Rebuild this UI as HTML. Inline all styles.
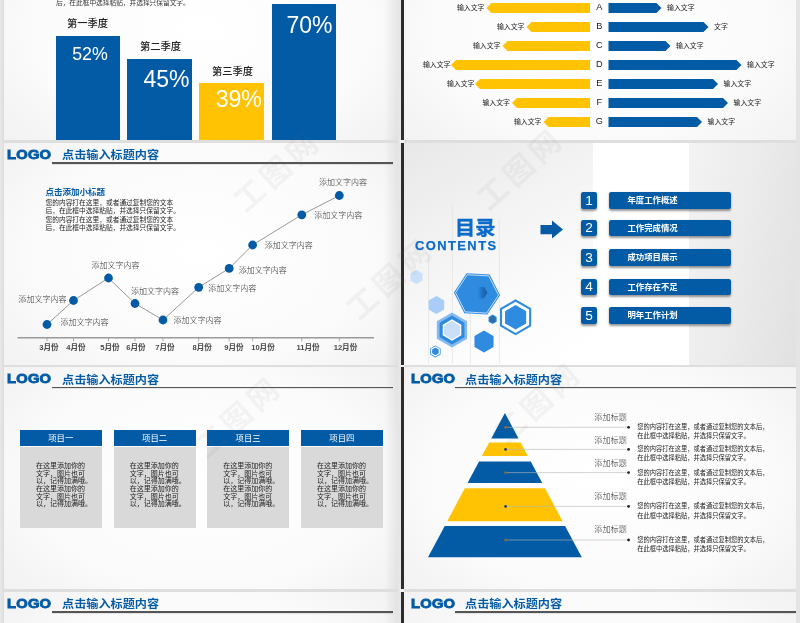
<!DOCTYPE html>
<html lang="zh-CN"><head><meta charset="utf-8"><title>工作总结 PPT 模板预览</title>
<style>
html,body{margin:0;padding:0}
body{width:800px;height:623px;overflow:hidden;position:relative;background:#e2e2e2;font-family:"Liberation Sans","Noto Sans CJK SC",sans-serif}
.s{position:absolute;overflow:hidden}
.t{position:absolute;white-space:nowrap}
.abs{position:absolute}
.logo{position:absolute;font-weight:700;font-size:12.7px;line-height:17px;color:#035ba6;-webkit-text-stroke:0.85px #035ba6;transform:scaleX(1.16);transform-origin:0 50%;letter-spacing:0.2px}
.ttl{position:absolute;font-weight:700;font-size:11.3px;line-height:17px;color:#035ba6;white-space:nowrap;transform:scaleX(1.075);transform-origin:0 50%}
.hl{position:absolute;height:1.6px;background:#555;box-shadow:0 0.8px 0.8px rgba(0,0,0,.12)}
svg{position:absolute;left:0;top:0;overflow:visible}
</style></head><body>

<div class="s" style="left:4px;top:-83px;width:394px;height:223px;background:radial-gradient(ellipse 75% 85% at 50% 50%,#ffffff 0%,#fbfbfb 55%,#efefef 100%)"></div>
<div class="s" style="left:4px;top:142.5px;width:394px;height:222.5px;background:radial-gradient(ellipse 75% 85% at 50% 50%,#ffffff 0%,#fbfbfb 55%,#efefef 100%)"></div>
<div class="s" style="left:4px;top:367px;width:394px;height:222.5px;background:radial-gradient(ellipse 75% 85% at 50% 50%,#ffffff 0%,#fbfbfb 55%,#efefef 100%)"></div>
<div class="s" style="left:4px;top:591.5px;width:394px;height:222.5px;background:radial-gradient(ellipse 75% 85% at 50% 50%,#ffffff 0%,#fbfbfb 55%,#efefef 100%)"></div>
<div class="s" style="left:403.5px;top:-83px;width:392.5px;height:223px;background:radial-gradient(ellipse 75% 85% at 50% 50%,#ffffff 0%,#fbfbfb 55%,#efefef 100%)"></div>
<div class="s" style="left:403.5px;top:367px;width:392.5px;height:222.5px;background:radial-gradient(ellipse 75% 85% at 50% 50%,#ffffff 0%,#fbfbfb 55%,#efefef 100%)"></div>
<div class="s" style="left:403.5px;top:591.5px;width:392.5px;height:222.5px;background:radial-gradient(ellipse 75% 85% at 50% 50%,#ffffff 0%,#fbfbfb 55%,#efefef 100%)"></div>
<div class="s" style="left:384px;top:-83px;width:14px;height:223px;background:linear-gradient(90deg,rgba(0,0,0,0),rgba(0,0,0,0.07))"></div>
<div class="s" style="left:384px;top:142.5px;width:14px;height:222.5px;background:linear-gradient(90deg,rgba(0,0,0,0),rgba(0,0,0,0.07))"></div>
<div class="s" style="left:384px;top:367px;width:14px;height:222.5px;background:linear-gradient(90deg,rgba(0,0,0,0),rgba(0,0,0,0.07))"></div>
<div class="s" style="left:384px;top:591.5px;width:14px;height:222.5px;background:linear-gradient(90deg,rgba(0,0,0,0),rgba(0,0,0,0.07))"></div>
<div class="s" style="left:403.5px;top:142.5px;width:392.5px;height:222.5px;background:linear-gradient(150deg,#e8e8e8 0%,#f0f0f0 20%,#f6f6f6 36%,#fcfcfc 55%,#ffffff 70%)"></div>
<div class="s" style="left:592.5px;top:142.5px;width:96px;height:222.5px;background:#fff"></div>
<div class="s" style="left:688.5px;top:142.5px;width:107.5px;height:222.5px;background:linear-gradient(100deg,#f3f3f3 0%,#ececec 45%,#e1e1e1 100%)"></div>
<div class="abs" style="left:0;top:140.1px;width:800px;height:2.6px;background:#dedede"></div>
<div class="abs" style="left:0;top:364.7px;width:800px;height:2.6px;background:#dedede"></div>
<div class="abs" style="left:0;top:589.3px;width:800px;height:2.6px;background:#dedede"></div>
<div class="abs" style="left:398px;top:0;width:3px;height:623px;background:#e6e6e6"></div>
<div class="abs" style="left:401px;top:0;width:2.8px;height:623px;background:#2c2c2c"></div>
<div class="abs" style="left:400px;top:140.1px;width:4px;height:2.6px;background:#f2f2f2"></div>
<div class="abs" style="left:400px;top:364.7px;width:4px;height:2.6px;background:#f2f2f2"></div>
<div class="abs" style="left:400px;top:589.3px;width:4px;height:2.6px;background:#f2f2f2"></div>
<div class="abs" style="left:0;top:0;width:4px;height:623px;background:linear-gradient(90deg,#e9e9e9,#dcdcdc)"></div>
<div class="abs" style="left:795.5px;top:0;width:4.5px;height:623px;background:#e4e4e4"></div>
<div class="logo" style="left:6.8px;top:146.8px">LOGO</div>
<div class="ttl" style="left:61.9px;top:147.1px">点击输入标题内容</div>
<div class="hl" style="left:52px;top:162.4px;width:341px"></div>
<div class="logo" style="left:6.8px;top:371.3px">LOGO</div>
<div class="ttl" style="left:61.9px;top:371.6px">点击输入标题内容</div>
<div class="hl" style="left:52px;top:386.9px;width:341px"></div>
<div class="logo" style="left:6.8px;top:595.8px">LOGO</div>
<div class="ttl" style="left:61.9px;top:596.1px">点击输入标题内容</div>
<div class="hl" style="left:52px;top:611.4px;width:341px"></div>
<div class="logo" style="left:411.0px;top:371.3px">LOGO</div>
<div class="ttl" style="left:464.79999999999995px;top:371.6px">点击输入标题内容</div>
<div class="hl" style="left:455px;top:386.9px;width:340.5px"></div>
<div class="logo" style="left:411.0px;top:595.8px">LOGO</div>
<div class="ttl" style="left:464.79999999999995px;top:596.1px">点击输入标题内容</div>
<div class="hl" style="left:455px;top:611.4px;width:340.5px"></div>
<div class="t" style="top:-0.66px;font-size:6.7px;line-height:8.71px;color:#333;font-weight:400;left:56px;">后，在此框中选择粘贴，并选择只保留文字。</div>
<div class="abs" style="left:56px;top:36px;width:64px;height:103.69999999999999px;background:#035ba6"></div>
<div class="abs" style="left:127.2px;top:59px;width:64.8px;height:80.69999999999999px;background:#035ba6"></div>
<div class="abs" style="left:199px;top:82.5px;width:65px;height:57.19999999999999px;background:#ffc303"></div>
<div class="abs" style="left:271.5px;top:4px;width:64.0px;height:135.7px;background:#035ba6"></div>
<div class="t" style="top:17.3px;font-size:10.3px;line-height:13.39px;color:#222;font-weight:500;left:-12.5px;width:200px;text-align:center;">第一季度</div>
<div class="t" style="top:40.2px;font-size:10.3px;line-height:13.39px;color:#222;font-weight:500;left:60.5px;width:200px;text-align:center;">第二季度</div>
<div class="t" style="top:65.21px;font-size:10.3px;line-height:13.39px;color:#222;font-weight:500;left:132.5px;width:200px;text-align:center;">第三季度</div>
<div class="t" style="top:42.83px;font-size:17.8px;line-height:23.14px;color:#fff;font-weight:400;left:-10px;width:200px;text-align:center;font-family:"Liberation Sans",sans-serif;-webkit-text-stroke:0.4px #035ba6;">52%</div>
<div class="t" style="top:65.35px;font-size:23px;line-height:29.9px;color:#fff;font-weight:400;left:66.5px;width:200px;text-align:center;font-family:"Liberation Sans",sans-serif;-webkit-text-stroke:0.4px #035ba6;">45%</div>
<div class="t" style="top:84.55px;font-size:23px;line-height:29.9px;color:#fff;font-weight:400;left:138.7px;width:200px;text-align:center;font-family:"Liberation Sans",sans-serif;-webkit-text-stroke:0.4px #ffc303;">39%</div>
<div class="t" style="top:10.55px;font-size:23px;line-height:29.9px;color:#fff;font-weight:400;left:209.5px;width:200px;text-align:center;font-family:"Liberation Sans",sans-serif;-webkit-text-stroke:0.4px #035ba6;">70%</div>
<svg width="800" height="623" viewBox="0 0 800 623">
<polygon fill="#ffc303" points="590,3 491.5,3 486.5,8 491.5,13 590,13"/>
<polygon fill="#035ba6" points="608.5,3 656.5,3 661.5,8 656.5,13 608.5,13"/>
<polygon fill="#ffc303" points="590,22 531.5,22 526.5,27 531.5,32 590,32"/>
<polygon fill="#035ba6" points="608.5,22 703.5,22 708.5,27 703.5,32 608.5,32"/>
<polygon fill="#ffc303" points="590,41 507.5,41 502.5,46 507.5,51 590,51"/>
<polygon fill="#035ba6" points="608.5,41 665.5,41 670.5,46 665.5,51 608.5,51"/>
<polygon fill="#ffc303" points="590,60 456,60 451,65 456,70 590,70"/>
<polygon fill="#035ba6" points="608.5,60 736.5,60 741.5,65 736.5,70 608.5,70"/>
<polygon fill="#ffc303" points="590,79 480,79 475,84 480,89 590,89"/>
<polygon fill="#035ba6" points="608.5,79 713,79 718,84 713,89 608.5,89"/>
<polygon fill="#ffc303" points="590,98 517,98 512,103 517,108 590,108"/>
<polygon fill="#035ba6" points="608.5,98 723,98 728,103 723,108 608.5,108"/>
<polygon fill="#ffc303" points="590,117 548.5,117 543.5,122 548.5,127 590,127"/>
<polygon fill="#035ba6" points="608.5,117 697,117 702,122 697,127 608.5,127"/>
</svg>
<div class="t" style="top:3.51px;font-size:6.9px;line-height:8.97px;color:#222;font-weight:400;right:315.5px;text-align:right;">输入文字</div>
<div class="t" style="top:3.51px;font-size:6.9px;line-height:8.97px;color:#222;font-weight:400;left:667.0px;">输入文字</div>
<div class="t" style="top:2.22px;font-size:9.2px;line-height:11.96px;color:#222;font-weight:400;left:499.29999999999995px;width:200px;text-align:center;">A</div>
<div class="t" style="top:22.52px;font-size:6.9px;line-height:8.97px;color:#222;font-weight:400;right:275.5px;text-align:right;">输入文字</div>
<div class="t" style="top:22.52px;font-size:6.9px;line-height:8.97px;color:#222;font-weight:400;left:714.0px;">文字</div>
<div class="t" style="top:21.22px;font-size:9.2px;line-height:11.96px;color:#222;font-weight:400;left:499.29999999999995px;width:200px;text-align:center;">B</div>
<div class="t" style="top:41.52px;font-size:6.9px;line-height:8.97px;color:#222;font-weight:400;right:299.5px;text-align:right;">输入文字</div>
<div class="t" style="top:41.52px;font-size:6.9px;line-height:8.97px;color:#222;font-weight:400;left:676.0px;">输入文字</div>
<div class="t" style="top:40.22px;font-size:9.2px;line-height:11.96px;color:#222;font-weight:400;left:499.29999999999995px;width:200px;text-align:center;">C</div>
<div class="t" style="top:60.52px;font-size:6.9px;line-height:8.97px;color:#222;font-weight:400;right:349.5px;text-align:right;">输入文字</div>
<div class="t" style="top:60.52px;font-size:6.9px;line-height:8.97px;color:#222;font-weight:400;left:747.0px;">输入文字</div>
<div class="t" style="top:59.22px;font-size:9.2px;line-height:11.96px;color:#222;font-weight:400;left:499.29999999999995px;width:200px;text-align:center;">D</div>
<div class="t" style="top:79.52px;font-size:6.9px;line-height:8.97px;color:#222;font-weight:400;right:325.5px;text-align:right;">输入文字</div>
<div class="t" style="top:79.52px;font-size:6.9px;line-height:8.97px;color:#222;font-weight:400;left:723.5px;">输入文字</div>
<div class="t" style="top:78.22px;font-size:9.2px;line-height:11.96px;color:#222;font-weight:400;left:499.29999999999995px;width:200px;text-align:center;">E</div>
<div class="t" style="top:98.52px;font-size:6.9px;line-height:8.97px;color:#222;font-weight:400;right:290px;text-align:right;">输入文字</div>
<div class="t" style="top:98.52px;font-size:6.9px;line-height:8.97px;color:#222;font-weight:400;left:733.5px;">输入文字</div>
<div class="t" style="top:97.22px;font-size:9.2px;line-height:11.96px;color:#222;font-weight:400;left:499.29999999999995px;width:200px;text-align:center;">F</div>
<div class="t" style="top:117.52px;font-size:6.9px;line-height:8.97px;color:#222;font-weight:400;right:258.5px;text-align:right;">输入文字</div>
<div class="t" style="top:117.52px;font-size:6.9px;line-height:8.97px;color:#222;font-weight:400;left:707.5px;">输入文字</div>
<div class="t" style="top:116.22px;font-size:9.2px;line-height:11.96px;color:#222;font-weight:400;left:499.29999999999995px;width:200px;text-align:center;">G</div>
<div class="t" style="top:187.47px;font-size:8.5px;line-height:11.05px;color:#035ba6;font-weight:700;left:45.5px;">点击添加小标题</div>
<div class="t" style="top:199.23px;font-size:6.72px;line-height:8.74px;color:#222;font-weight:400;left:45.5px;">您的内容打在这里，或者通过复制您的文本</div>
<div class="t" style="top:207.43px;font-size:6.72px;line-height:8.74px;color:#222;font-weight:400;left:45.5px;">后，在此框中选择粘贴，并选择只保留文字。</div>
<div class="t" style="top:215.63px;font-size:6.72px;line-height:8.74px;color:#222;font-weight:400;left:45.5px;">您的内容打在这里，或者通过复制您的文本</div>
<div class="t" style="top:223.83px;font-size:6.72px;line-height:8.74px;color:#222;font-weight:400;left:45.5px;">后，在此框中选择粘贴，并选择只保留文字。</div>
<svg width="800" height="623" viewBox="0 0 800 623">
<line x1="17.5" y1="337.7" x2="374" y2="337.7" stroke="#9a9a9a" stroke-width="1.4"/>
<line x1="47" y1="337.7" x2="47" y2="341.3" stroke="#9a9a9a" stroke-width="0.8"/>
<line x1="73.5" y1="337.7" x2="73.5" y2="341.3" stroke="#9a9a9a" stroke-width="0.8"/>
<line x1="108.5" y1="337.7" x2="108.5" y2="341.3" stroke="#9a9a9a" stroke-width="0.8"/>
<line x1="135" y1="337.7" x2="135" y2="341.3" stroke="#9a9a9a" stroke-width="0.8"/>
<line x1="163" y1="337.7" x2="163" y2="341.3" stroke="#9a9a9a" stroke-width="0.8"/>
<line x1="198.7" y1="337.7" x2="198.7" y2="341.3" stroke="#9a9a9a" stroke-width="0.8"/>
<line x1="229.2" y1="337.7" x2="229.2" y2="341.3" stroke="#9a9a9a" stroke-width="0.8"/>
<line x1="252.6" y1="337.7" x2="252.6" y2="341.3" stroke="#9a9a9a" stroke-width="0.8"/>
<line x1="301.8" y1="337.7" x2="301.8" y2="341.3" stroke="#9a9a9a" stroke-width="0.8"/>
<line x1="339.3" y1="337.7" x2="339.3" y2="341.3" stroke="#9a9a9a" stroke-width="0.8"/>
<polyline fill="none" stroke="#8c8c8c" stroke-width="0.9" points="47,324.5 73.5,300.5 108.5,278 135,303.5 163,320 198.7,287.3 229.2,268.4 252.6,245 301.8,214.8 339.3,195.5"/>
<circle cx="47" cy="324.5" r="4.4" fill="#035ba6"/>
<circle cx="73.5" cy="300.5" r="4.4" fill="#035ba6"/>
<circle cx="108.5" cy="278" r="4.4" fill="#035ba6"/>
<circle cx="135" cy="303.5" r="4.4" fill="#035ba6"/>
<circle cx="163" cy="320" r="4.4" fill="#035ba6"/>
<circle cx="198.7" cy="287.3" r="4.4" fill="#035ba6"/>
<circle cx="229.2" cy="268.4" r="4.4" fill="#035ba6"/>
<circle cx="252.6" cy="245" r="4.4" fill="#035ba6"/>
<circle cx="301.8" cy="214.8" r="4.4" fill="#035ba6"/>
<circle cx="339.3" cy="195.5" r="4.4" fill="#035ba6"/>
</svg>
<div class="t" style="top:342.86px;font-size:7.6px;line-height:9.88px;color:#4a4a4a;font-weight:700;left:-51px;width:200px;text-align:center;">3月份</div>
<div class="t" style="top:342.86px;font-size:7.6px;line-height:9.88px;color:#4a4a4a;font-weight:700;left:-24px;width:200px;text-align:center;">4月份</div>
<div class="t" style="top:342.86px;font-size:7.6px;line-height:9.88px;color:#4a4a4a;font-weight:700;left:10px;width:200px;text-align:center;">5月份</div>
<div class="t" style="top:342.86px;font-size:7.6px;line-height:9.88px;color:#4a4a4a;font-weight:700;left:36px;width:200px;text-align:center;">6月份</div>
<div class="t" style="top:342.86px;font-size:7.6px;line-height:9.88px;color:#4a4a4a;font-weight:700;left:65px;width:200px;text-align:center;">7月份</div>
<div class="t" style="top:342.86px;font-size:7.6px;line-height:9.88px;color:#4a4a4a;font-weight:700;left:102.19999999999999px;width:200px;text-align:center;">8月份</div>
<div class="t" style="top:342.86px;font-size:7.6px;line-height:9.88px;color:#4a4a4a;font-weight:700;left:134px;width:200px;text-align:center;">9月份</div>
<div class="t" style="top:342.86px;font-size:7.6px;line-height:9.88px;color:#4a4a4a;font-weight:700;left:163px;width:200px;text-align:center;">10月份</div>
<div class="t" style="top:342.86px;font-size:7.6px;line-height:9.88px;color:#4a4a4a;font-weight:700;left:208px;width:200px;text-align:center;">11月份</div>
<div class="t" style="top:342.86px;font-size:7.6px;line-height:9.88px;color:#4a4a4a;font-weight:700;left:245.5px;width:200px;text-align:center;">12月份</div>
<div class="t" style="top:318.3px;font-size:8px;line-height:10.4px;color:#333;font-weight:300;left:60.5px;">添加文字内容</div>
<div class="t" style="top:295.3px;font-size:8px;line-height:10.4px;color:#333;font-weight:300;left:18.5px;">添加文字内容</div>
<div class="t" style="top:260.8px;font-size:8px;line-height:10.4px;color:#333;font-weight:300;left:91.5px;">添加文字内容</div>
<div class="t" style="top:286.8px;font-size:8px;line-height:10.4px;color:#333;font-weight:300;left:131px;">添加文字内容</div>
<div class="t" style="top:316.4px;font-size:8px;line-height:10.4px;color:#333;font-weight:300;left:173.5px;">添加文字内容</div>
<div class="t" style="top:283.8px;font-size:8px;line-height:10.4px;color:#333;font-weight:300;left:208.3px;">添加文字内容</div>
<div class="t" style="top:265.5px;font-size:8px;line-height:10.4px;color:#333;font-weight:300;left:238.8px;">添加文字内容</div>
<div class="t" style="top:241.4px;font-size:8px;line-height:10.4px;color:#333;font-weight:300;left:264.8px;">添加文字内容</div>
<div class="t" style="top:211.2px;font-size:8px;line-height:10.4px;color:#333;font-weight:300;left:314.3px;">添加文字内容</div>
<div class="t" style="top:178.1px;font-size:8px;line-height:10.4px;color:#333;font-weight:300;left:319px;">添加文字内容</div>
<svg width="800" height="623" viewBox="0 0 800 623">
<line x1="428.6" y1="255" x2="428.6" y2="364" stroke="#e3e3e3" stroke-width="0.7"/>
<line x1="452.4" y1="205" x2="452.4" y2="364" stroke="#e3e3e3" stroke-width="0.7"/>
<line x1="470.4" y1="300" x2="470.4" y2="364" stroke="#e3e3e3" stroke-width="0.7"/>
<line x1="499.4" y1="220" x2="499.4" y2="364" stroke="#e3e3e3" stroke-width="0.7"/>
</svg>
<div class="t" style="top:216.62px;font-size:19.2px;line-height:24.96px;color:#0b6bc9;font-weight:700;left:454.6px;-webkit-text-stroke:0.35px #0b6bc9;transform:scaleX(1.05);transform-origin:0 50%;">目录</div>
<div class="t" style="top:238.02px;font-size:12.9px;line-height:16.77px;color:#0b6bc9;font-weight:700;left:415px;letter-spacing:1.45px;-webkit-text-stroke:0.25px #0b6bc9;">CONTENTS</div>
<svg width="800" height="623" viewBox="0 0 800 623">
<polygon fill="#035ba6" points="540.5,225 552,225 552,220.5 563,229.5 552,238.5 552,234.3 540.5,234.3"/>
</svg>
<div class="abs" style="left:581px;top:191.9px;width:16px;height:16.8px;background:#035ba6;box-shadow:0 1.2px 2.2px rgba(0,0,0,.4);border-radius:2.2px;"></div>
<div class="abs" style="left:609px;top:191.9px;width:122.2px;height:16.8px;background:#035ba6;box-shadow:0 1.2px 2.2px rgba(0,0,0,.4);border-radius:2.2px;"></div>
<div class="t" style="top:191.76px;font-size:13.6px;line-height:17.68px;color:#fff;font-weight:400;left:489px;width:200px;text-align:center;font-family:"Liberation Sans",sans-serif;-webkit-text-stroke:0.3px #035ba6;">1</div>
<div class="t" style="top:194.84px;font-size:8.4px;line-height:10.92px;color:#fff;font-weight:700;left:627.5px;">年度工作概述</div>
<div class="abs" style="left:581px;top:219.6px;width:16px;height:16.8px;background:#035ba6;box-shadow:0 1.2px 2.2px rgba(0,0,0,.4);border-radius:2.2px;"></div>
<div class="abs" style="left:609px;top:219.6px;width:122.2px;height:16.8px;background:#035ba6;box-shadow:0 1.2px 2.2px rgba(0,0,0,.4);border-radius:2.2px;"></div>
<div class="t" style="top:219.46px;font-size:13.6px;line-height:17.68px;color:#fff;font-weight:400;left:489px;width:200px;text-align:center;font-family:"Liberation Sans",sans-serif;-webkit-text-stroke:0.3px #035ba6;">2</div>
<div class="t" style="top:222.54px;font-size:8.4px;line-height:10.92px;color:#fff;font-weight:700;left:627.5px;">工作完成情况</div>
<div class="abs" style="left:581px;top:249.1px;width:16px;height:16.8px;background:#035ba6;box-shadow:0 1.2px 2.2px rgba(0,0,0,.4);border-radius:2.2px;"></div>
<div class="abs" style="left:609px;top:249.1px;width:122.2px;height:16.8px;background:#035ba6;box-shadow:0 1.2px 2.2px rgba(0,0,0,.4);border-radius:2.2px;"></div>
<div class="t" style="top:248.96px;font-size:13.6px;line-height:17.68px;color:#fff;font-weight:400;left:489px;width:200px;text-align:center;font-family:"Liberation Sans",sans-serif;-webkit-text-stroke:0.3px #035ba6;">3</div>
<div class="t" style="top:252.04px;font-size:8.4px;line-height:10.92px;color:#fff;font-weight:700;left:627.5px;">成功项目展示</div>
<div class="abs" style="left:581px;top:278.6px;width:16px;height:16.8px;background:#035ba6;box-shadow:0 1.2px 2.2px rgba(0,0,0,.4);border-radius:2.2px;"></div>
<div class="abs" style="left:609px;top:278.6px;width:122.2px;height:16.8px;background:#035ba6;box-shadow:0 1.2px 2.2px rgba(0,0,0,.4);border-radius:2.2px;"></div>
<div class="t" style="top:278.46px;font-size:13.6px;line-height:17.68px;color:#fff;font-weight:400;left:489px;width:200px;text-align:center;font-family:"Liberation Sans",sans-serif;-webkit-text-stroke:0.3px #035ba6;">4</div>
<div class="t" style="top:281.54px;font-size:8.4px;line-height:10.92px;color:#fff;font-weight:700;left:627.5px;">工作存在不足</div>
<div class="abs" style="left:581px;top:307.2px;width:16px;height:16.8px;background:#035ba6;box-shadow:0 1.2px 2.2px rgba(0,0,0,.4);border-radius:2.2px;"></div>
<div class="abs" style="left:609px;top:307.2px;width:122.2px;height:16.8px;background:#035ba6;box-shadow:0 1.2px 2.2px rgba(0,0,0,.4);border-radius:2.2px;"></div>
<div class="t" style="top:307.06px;font-size:13.6px;line-height:17.68px;color:#fff;font-weight:400;left:489px;width:200px;text-align:center;font-family:"Liberation Sans",sans-serif;-webkit-text-stroke:0.3px #035ba6;">5</div>
<div class="t" style="top:310.14px;font-size:8.4px;line-height:10.92px;color:#fff;font-weight:700;left:627.5px;">明年工作计划</div>
<svg width="800" height="623" viewBox="0 0 800 623">
<polygon fill="#c9dffa" points="416.40,284.00 410.34,280.50 410.34,273.50 416.40,270.00 422.46,273.50 422.46,280.50"/>
<polygon fill="#a9cdf6" points="436.40,314.00 428.61,309.50 428.61,300.50 436.40,296.00 444.19,300.50 444.19,309.50"/>
<defs><linearGradient id="hole" x1="0" y1="0" x2="1" y2="0"><stop offset="0.15" stop-color="#2f8be0" stop-opacity="0"/><stop offset="0.55" stop-color="#1f73c4"/><stop offset="1" stop-color="#125aa6"/></linearGradient></defs>
<polygon fill="#2f8be0" points="500.06,295.23 487.38,314.54 464.32,313.21 453.94,292.57 466.62,273.26 489.68,274.59"/>
<polygon fill="none" stroke="#fff" stroke-width="0.7" points="498.46,295.14 486.66,313.11 465.20,311.87 455.54,292.66 467.34,274.69 488.80,275.93"/>
<polygon fill="url(#hole)" points="487.39,293.08 483.77,298.60 477.18,298.22 474.21,292.32 477.83,286.80 484.42,287.18"/>
<polygon fill="#2f8be0" points="515.60,335.30 500.01,326.30 500.01,308.30 515.60,299.30 531.19,308.30 531.19,326.30"/>
<polygon fill="#fff" points="515.60,332.90 502.09,325.10 502.09,309.50 515.60,301.70 529.11,309.50 529.11,325.10"/>
<polygon fill="#2f8be0" points="515.60,329.50 505.03,323.40 505.03,311.20 515.60,305.10 526.17,311.20 526.17,323.40"/>
<polygon fill="#86b9f0" points="452.00,347.50 436.84,338.75 436.84,321.25 452.00,312.50 467.16,321.25 467.16,338.75"/>
<polygon fill="#2f8be0" points="452.00,344.40 439.53,337.20 439.53,322.80 452.00,315.60 464.47,322.80 464.47,337.20"/>
<polygon fill="#fff" points="452.00,340.70 442.73,335.35 442.73,324.65 452.00,319.30 461.27,324.65 461.27,335.35"/>
<polygon fill="#c9dffa" points="452.00,339.20 444.03,334.60 444.03,325.40 452.00,320.80 459.97,325.40 459.97,334.60"/>
<polygon fill="#2f8be0" points="484.00,352.60 474.47,347.10 474.47,336.10 484.00,330.60 493.53,336.10 493.53,347.10"/>
<polygon fill="#2f8be0" points="492.60,324.00 488.53,321.65 488.53,316.95 492.60,314.60 496.67,316.95 496.67,321.65"/>
<polygon fill="#2b6ea8" points="492.60,322.80 489.57,321.05 489.57,317.55 492.60,315.80 495.63,317.55 495.63,321.05"/>
<polygon fill="#2f8be0" points="435.40,357.40 430.20,354.40 430.20,348.40 435.40,345.40 440.60,348.40 440.60,354.40"/>
<polygon fill="#fff" points="435.40,356.60 430.90,354.00 430.90,348.80 435.40,346.20 439.90,348.80 439.90,354.00"/>
<polygon fill="#2f8be0" points="435.40,355.20 432.11,353.30 432.11,349.50 435.40,347.60 438.69,349.50 438.69,353.30"/>
</svg>
<div class="abs" style="left:19.8px;top:430.3px;width:82.2px;height:15.9px;background:#035ba6"></div>
<div class="abs" style="left:19.8px;top:447px;width:82.2px;height:81.4px;background:#d9d9d9"></div>
<div class="t" style="top:432.54px;font-size:8.4px;line-height:10.92px;color:#fff;font-weight:400;left:-39.2px;width:200px;text-align:center;">项目一</div>
<div class="t" style="top:460.95px;font-size:7px;line-height:9.1px;color:#1c1c1c;font-weight:400;left:36.0px;">在这里添加你的</div>
<div class="t" style="top:468.65px;font-size:7px;line-height:9.1px;color:#1c1c1c;font-weight:400;left:36.0px;">文字，图片也可</div>
<div class="t" style="top:476.35px;font-size:7px;line-height:9.1px;color:#1c1c1c;font-weight:400;left:36.0px;">以，记得加满哦。</div>
<div class="t" style="top:484.05px;font-size:7px;line-height:9.1px;color:#1c1c1c;font-weight:400;left:36.0px;">在这里添加你的</div>
<div class="t" style="top:491.75px;font-size:7px;line-height:9.1px;color:#1c1c1c;font-weight:400;left:36.0px;">文字，图片也可</div>
<div class="t" style="top:499.45px;font-size:7px;line-height:9.1px;color:#1c1c1c;font-weight:400;left:36.0px;">以，记得加满哦。</div>
<div class="abs" style="left:113.6px;top:430.3px;width:82.2px;height:15.9px;background:#035ba6"></div>
<div class="abs" style="left:113.6px;top:447px;width:82.2px;height:81.4px;background:#d9d9d9"></div>
<div class="t" style="top:432.54px;font-size:8.4px;line-height:10.92px;color:#fff;font-weight:400;left:54.599999999999994px;width:200px;text-align:center;">项目二</div>
<div class="t" style="top:460.95px;font-size:7px;line-height:9.1px;color:#1c1c1c;font-weight:400;left:129.79999999999998px;">在这里添加你的</div>
<div class="t" style="top:468.65px;font-size:7px;line-height:9.1px;color:#1c1c1c;font-weight:400;left:129.79999999999998px;">文字，图片也可</div>
<div class="t" style="top:476.35px;font-size:7px;line-height:9.1px;color:#1c1c1c;font-weight:400;left:129.79999999999998px;">以，记得加满哦。</div>
<div class="t" style="top:484.05px;font-size:7px;line-height:9.1px;color:#1c1c1c;font-weight:400;left:129.79999999999998px;">在这里添加你的</div>
<div class="t" style="top:491.75px;font-size:7px;line-height:9.1px;color:#1c1c1c;font-weight:400;left:129.79999999999998px;">文字，图片也可</div>
<div class="t" style="top:499.45px;font-size:7px;line-height:9.1px;color:#1c1c1c;font-weight:400;left:129.79999999999998px;">以，记得加满哦。</div>
<div class="abs" style="left:207.1px;top:430.3px;width:82.2px;height:15.9px;background:#035ba6"></div>
<div class="abs" style="left:207.1px;top:447px;width:82.2px;height:81.4px;background:#d9d9d9"></div>
<div class="t" style="top:432.54px;font-size:8.4px;line-height:10.92px;color:#fff;font-weight:400;left:148.1px;width:200px;text-align:center;">项目三</div>
<div class="t" style="top:460.95px;font-size:7px;line-height:9.1px;color:#1c1c1c;font-weight:400;left:223.29999999999998px;">在这里添加你的</div>
<div class="t" style="top:468.65px;font-size:7px;line-height:9.1px;color:#1c1c1c;font-weight:400;left:223.29999999999998px;">文字，图片也可</div>
<div class="t" style="top:476.35px;font-size:7px;line-height:9.1px;color:#1c1c1c;font-weight:400;left:223.29999999999998px;">以，记得加满哦。</div>
<div class="t" style="top:484.05px;font-size:7px;line-height:9.1px;color:#1c1c1c;font-weight:400;left:223.29999999999998px;">在这里添加你的</div>
<div class="t" style="top:491.75px;font-size:7px;line-height:9.1px;color:#1c1c1c;font-weight:400;left:223.29999999999998px;">文字，图片也可</div>
<div class="t" style="top:499.45px;font-size:7px;line-height:9.1px;color:#1c1c1c;font-weight:400;left:223.29999999999998px;">以，记得加满哦。</div>
<div class="abs" style="left:300.9px;top:430.3px;width:82.2px;height:15.9px;background:#035ba6"></div>
<div class="abs" style="left:300.9px;top:447px;width:82.2px;height:81.4px;background:#d9d9d9"></div>
<div class="t" style="top:432.54px;font-size:8.4px;line-height:10.92px;color:#fff;font-weight:400;left:241.89999999999998px;width:200px;text-align:center;">项目四</div>
<div class="t" style="top:460.95px;font-size:7px;line-height:9.1px;color:#1c1c1c;font-weight:400;left:317.09999999999997px;">在这里添加你的</div>
<div class="t" style="top:468.65px;font-size:7px;line-height:9.1px;color:#1c1c1c;font-weight:400;left:317.09999999999997px;">文字，图片也可</div>
<div class="t" style="top:476.35px;font-size:7px;line-height:9.1px;color:#1c1c1c;font-weight:400;left:317.09999999999997px;">以，记得加满哦。</div>
<div class="t" style="top:484.05px;font-size:7px;line-height:9.1px;color:#1c1c1c;font-weight:400;left:317.09999999999997px;">在这里添加你的</div>
<div class="t" style="top:491.75px;font-size:7px;line-height:9.1px;color:#1c1c1c;font-weight:400;left:317.09999999999997px;">文字，图片也可</div>
<div class="t" style="top:499.45px;font-size:7px;line-height:9.1px;color:#1c1c1c;font-weight:400;left:317.09999999999997px;">以，记得加满哦。</div>
<svg width="800" height="623" viewBox="0 0 800 623">
<polygon fill="#035ba6" points="504.90,413 504.90,413 518.54,438.6 491.26,438.6"/>
<polygon fill="#ffc303" points="489.13,442.6 520.67,442.6 527.87,456.1 481.93,456.1"/>
<polygon fill="#035ba6" points="479.05,461.5 530.75,461.5 542.26,483.1 467.54,483.1"/>
<polygon fill="#ffc303" points="464.82,488.2 544.98,488.2 562.56,521.2 447.24,521.2"/>
<polygon fill="#035ba6" points="444.73,525.9 565.07,525.9 581.80,557.3 428.00,557.3"/>
<line x1="505.6" y1="427.3" x2="628.6" y2="427.3" stroke="#b5b5b5" stroke-width="0.6"/>
<circle cx="505.6" cy="427.3" r="1.4" fill="#8a6a3a"/>
<circle cx="628.6" cy="427.3" r="1.4" fill="#222"/>
<line x1="505.6" y1="449.4" x2="628.6" y2="449.4" stroke="#b5b5b5" stroke-width="0.6"/>
<circle cx="505.6" cy="449.4" r="1.4" fill="#1b3f73"/>
<circle cx="628.6" cy="449.4" r="1.4" fill="#222"/>
<line x1="505.6" y1="472.6" x2="628.6" y2="472.6" stroke="#b5b5b5" stroke-width="0.6"/>
<circle cx="505.6" cy="472.6" r="1.4" fill="#8a6a3a"/>
<circle cx="628.6" cy="472.6" r="1.4" fill="#222"/>
<line x1="505.6" y1="506.4" x2="628.6" y2="506.4" stroke="#b5b5b5" stroke-width="0.6"/>
<circle cx="505.6" cy="506.4" r="1.4" fill="#1b3f73"/>
<circle cx="628.6" cy="506.4" r="1.4" fill="#222"/>
<line x1="505.6" y1="540.0" x2="628.6" y2="540.0" stroke="#b5b5b5" stroke-width="0.6"/>
<circle cx="505.6" cy="540.0" r="1.4" fill="#8a6a3a"/>
<circle cx="628.6" cy="540.0" r="1.4" fill="#222"/>
</svg>
<div class="t" style="top:413.07px;font-size:8.2px;line-height:10.66px;color:#333;font-weight:300;left:594.2px;">添加标题</div>
<div class="t" style="top:422.63px;font-size:6.26px;line-height:8.14px;color:#1c1c1c;font-weight:400;left:637.3px;">您的内容打在这里，或者通过复制您的文本后，</div>
<div class="t" style="top:431.63px;font-size:6.26px;line-height:8.14px;color:#1c1c1c;font-weight:400;left:637.3px;">在此框中选择粘贴，并选择只保留文字。</div>
<div class="t" style="top:435.97px;font-size:8.2px;line-height:10.66px;color:#333;font-weight:300;left:594.2px;">添加标题</div>
<div class="t" style="top:445.33px;font-size:6.26px;line-height:8.14px;color:#1c1c1c;font-weight:400;left:637.3px;">您的内容打在这里，或者通过复制您的文本后，</div>
<div class="t" style="top:454.33px;font-size:6.26px;line-height:8.14px;color:#1c1c1c;font-weight:400;left:637.3px;">在此框中选择粘贴，并选择只保留文字。</div>
<div class="t" style="top:458.87px;font-size:8.2px;line-height:10.66px;color:#333;font-weight:300;left:594.2px;">添加标题</div>
<div class="t" style="top:469.43px;font-size:6.26px;line-height:8.14px;color:#1c1c1c;font-weight:400;left:637.3px;">您的内容打在这里，或者通过复制您的文本后，</div>
<div class="t" style="top:478.33px;font-size:6.26px;line-height:8.14px;color:#1c1c1c;font-weight:400;left:637.3px;">在此框中选择粘贴，并选择只保留文字。</div>
<div class="t" style="top:492.17px;font-size:8.2px;line-height:10.66px;color:#333;font-weight:300;left:594.2px;">添加标题</div>
<div class="t" style="top:501.83px;font-size:6.26px;line-height:8.14px;color:#1c1c1c;font-weight:400;left:637.3px;">您的内容打在这里，或者通过复制您的文本后，</div>
<div class="t" style="top:511.53px;font-size:6.26px;line-height:8.14px;color:#1c1c1c;font-weight:400;left:637.3px;">在此框中选择粘贴，并选择只保留文字。</div>
<div class="t" style="top:524.97px;font-size:8.2px;line-height:10.66px;color:#333;font-weight:300;left:594.2px;">添加标题</div>
<div class="t" style="top:535.93px;font-size:6.26px;line-height:8.14px;color:#1c1c1c;font-weight:400;left:637.3px;">您的内容打在这里，或者通过复制您的文本后，</div>
<div class="t" style="top:545.03px;font-size:6.26px;line-height:8.14px;color:#1c1c1c;font-weight:400;left:637.3px;">在此框中选择粘贴，并选择只保留文字。</div>
<div class="t" style="left:207.5px;top:151px;width:140px;height:40px;line-height:40px;text-align:center;font-size:30px;font-weight:700;letter-spacing:5px;color:rgba(110,110,110,0.07);transform:rotate(-42deg);">工图网</div>
<div class="t" style="left:320.5px;top:259px;width:140px;height:40px;line-height:40px;text-align:center;font-size:30px;font-weight:700;letter-spacing:5px;color:rgba(110,110,110,0.07);transform:rotate(-42deg);">工图网</div>
<div class="t" style="left:450.5px;top:149px;width:140px;height:40px;line-height:40px;text-align:center;font-size:30px;font-weight:700;letter-spacing:5px;color:rgba(110,110,110,0.07);transform:rotate(-42deg);">工图网</div>
<div class="t" style="left:168.5px;top:397px;width:140px;height:40px;line-height:40px;text-align:center;font-size:30px;font-weight:700;letter-spacing:5px;color:rgba(110,110,110,0.07);transform:rotate(-42deg);">工图网</div>
<div class="t" style="left:468.5px;top:383px;width:140px;height:40px;line-height:40px;text-align:center;font-size:30px;font-weight:700;letter-spacing:5px;color:rgba(110,110,110,0.07);transform:rotate(-42deg);">工图网</div>
</body></html>
